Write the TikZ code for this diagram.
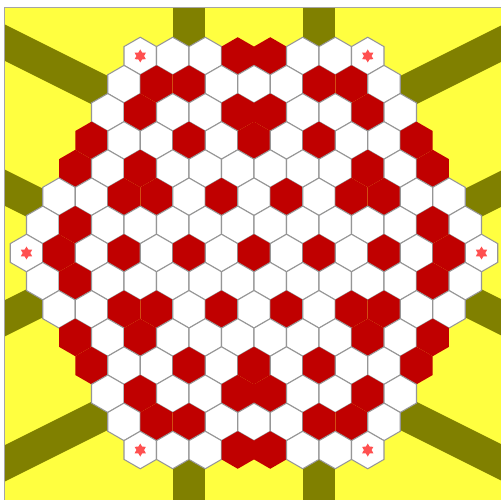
\documentclass[tikz,border=0pt]{standalone}
\usepackage{tikz}
\usetikzlibrary{calc,shapes.geometric}

\definecolor{fieldyellow}{RGB}{255,255,64}
\definecolor{barolive}{RGB}{128,128,0}
\definecolor{cellred}{RGB}{192,0,0}
\definecolor{cellline}{RGB}{150,150,150}
\definecolor{starred}{RGB}{255,80,80}
\definecolor{framegray}{RGB}{165,165,165}

% board rows, top to bottom: S = corner star, W = white, R = red
\newcommand{\boardrows}{%
  -7/{S,W,W,R,R,W,W,S},
  -6/{W,R,R,W,W,W,R,R,W},
  -5/{W,R,W,W,R,R,W,W,R,W},
  -4/{R,W,W,R,W,R,W,R,W,W,R},
  -3/{R,W,R,W,W,W,W,W,W,R,W,R},
  -2/{W,W,R,R,W,R,W,R,W,R,R,W,W},
  -1/{W,R,W,W,W,W,W,W,W,W,W,W,R,W},
  0/{S,R,W,R,W,R,W,R,W,R,W,R,W,R,S},
  1/{W,R,W,W,W,W,W,W,W,W,W,W,R,W},
  2/{W,W,R,R,W,R,W,R,W,R,R,W,W},
  3/{R,W,R,W,W,W,W,W,W,R,W,R},
  4/{R,W,W,R,W,R,W,R,W,W,R},
  5/{W,R,W,W,R,R,W,W,R,W},
  6/{W,R,R,W,W,W,R,R,W},
  7/{S,W,W,R,R,W,W,S}%
}

\begin{document}
\begin{tikzpicture}[
    x=0.02cm, y=-0.02cm,
    hexW/.style={fill=white, draw=cellline, line width=0.6pt},
    hexS/.style={hexW},
    hexR/.style={fill=cellred},
    olivebar/.style={fill=barolive},
    cornerstar/.style={star, star points=6, star point ratio=1.7,
                       fill=starred, inner sep=0pt, minimum size=0.26cm}
]
    \useasboundingbox (0,0) rectangle (501,500);
    \fill[white] (0,0) rectangle (501,500);

    % cell centres
    \foreach \r/\cells in \boardrows {
        \pgfmathsetmacro\off{7-abs(\r)/2}
        \foreach \c [count=\k from 0] in \cells
            \coordinate (c\r-\k) at ({254+32.5*(\k-\off)}, {253+28.146*\r});
    }

    % yellow field with the olive bars
    \fill[fieldyellow] (5,8) rectangle (501,500);
    \begin{scope}
        \clip (5,8) rectangle (501,500);
        \foreach \a/\b/\dx/\dy in {c-7-1/c-7-2/0/-1, c-7-5/c-7-6/0/-1,
                                   c7-1/c7-2/0/1, c7-5/c7-6/0/1,
                                   c-6-0/c-5-0/-2/-1, c-2-0/c-1-0/-2/-1,
                                   c1-0/c2-0/-2/1, c5-0/c6-0/-2/1,
                                   c-6-8/c-5-9/2/-1, c-2-12/c-1-13/2/-1,
                                   c1-13/c2-12/2/1, c5-9/c6-8/2/1}
            \fill[olivebar] (\a) -- (\b) -- ($(\b)+200*(\dx,\dy)$)
                -- ($(\a)+200*(\dx,\dy)$) -- cycle;
    \end{scope}
    \draw[framegray, line width=1pt] (4.5,500) -- (4.5,7.5) -- (501,7.5);

    % cells
    \foreach \r/\cells in \boardrows
        \foreach \c [count=\k from 0] in \cells
            \path[hex\c] (c\r-\k) +(30:18.76) -- +(90:18.76) -- +(150:18.76)
                -- +(210:18.76) -- +(270:18.76) -- +(330:18.76) -- cycle;

    % corner stars
    \foreach \s in {c-7-0, c-7-7, c0-0, c0-14, c7-0, c7-7}
        \node[cornerstar] (star\s) at (\s) {};
\end{tikzpicture}
\end{document}
